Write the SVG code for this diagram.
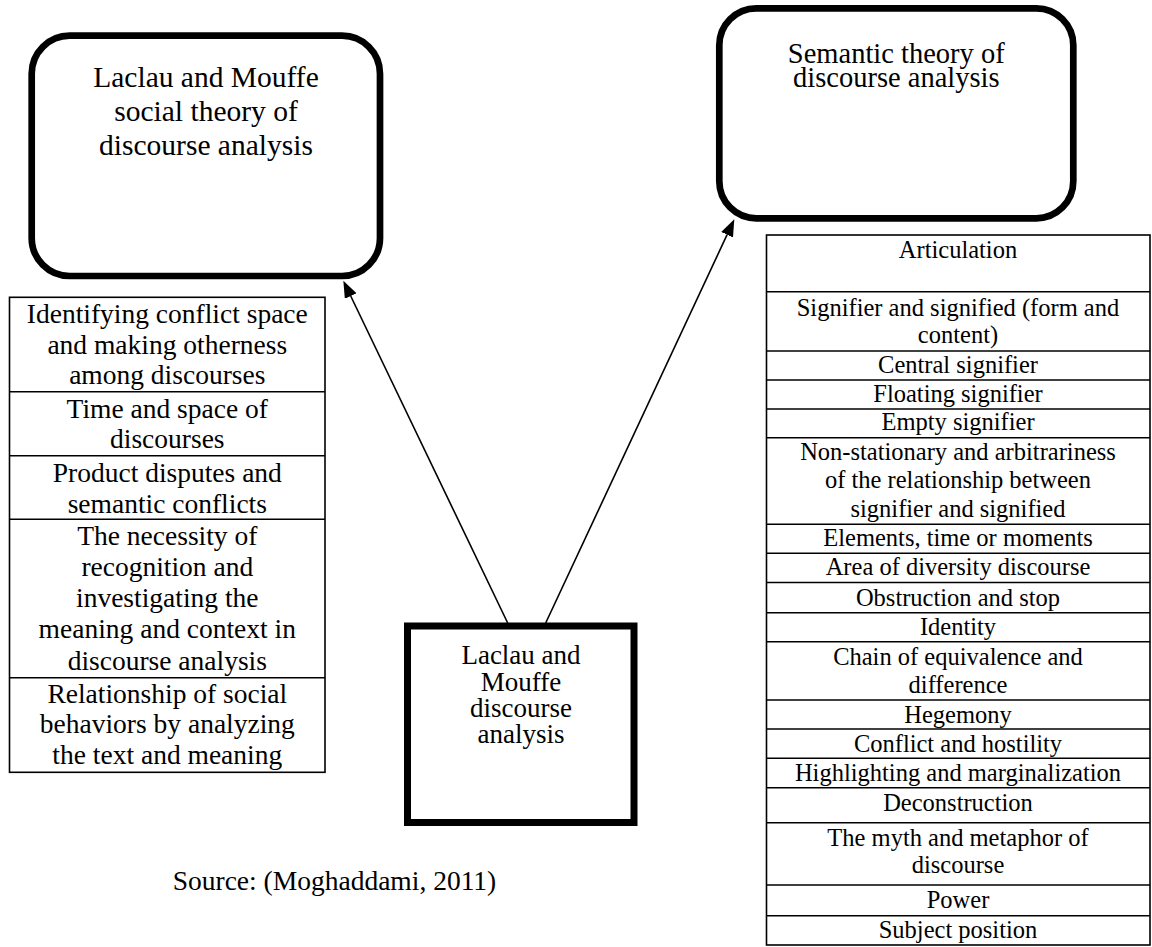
<svg xmlns="http://www.w3.org/2000/svg" width="1152" height="947" viewBox="0 0 1152 947">
<style>
text{font-family:"Liberation Serif","Times New Roman",serif;fill:#000;text-anchor:middle}
.big{fill:#fff;stroke:#000;stroke-width:6.7}
.cell{fill:#fff;stroke:#000;stroke-width:1.6}
.div{stroke:#000;stroke-width:1.6}
.lt{font-size:27.5px}
.rt{font-size:24.5px}
.conn{stroke:#000;stroke-width:1.6;fill:none}
</style>
<defs>
<marker id="ah" markerUnits="userSpaceOnUse" markerWidth="18" markerHeight="14" refX="0" refY="6.5" orient="auto">
<path d="M0,0 L17,6.5 L0,13 z" fill="#000"/>
</marker>
</defs>
<rect width="1152" height="947" fill="#fff"/>

<g id="social-theory">
<rect class="big" x="31.7" y="35.7" width="348.3" height="240.3" rx="38" ry="38"/>
<text x="206" y="87.3" style="font-size:29.5px">Laclau and Mouffe</text>
<text x="206" y="121" style="font-size:29.5px">social theory of</text>
<text x="206" y="155" style="font-size:29.5px">discourse analysis</text>
</g>

<g id="semantic-theory">
<rect class="big" x="719.3" y="8.3" width="354" height="210" rx="37" ry="37"/>
<text x="896.3" y="63.3" style="font-size:28.5px">Semantic theory of</text>
<text x="896.3" y="87.3" style="font-size:28.5px">discourse analysis</text>
</g>

<g id="central">
<rect x="407.5" y="626" width="226.5" height="196.5" fill="#fff" stroke="#000" stroke-width="7"/>
<text x="521" y="664" style="font-size:27px">Laclau and</text>
<text x="521" y="690.7" style="font-size:27px">Mouffe</text>
<text x="521" y="716.7" style="font-size:27px">discourse</text>
<text x="521" y="743" style="font-size:27px">analysis</text>
</g>

<g id="left-table" class="lt">
<rect class="cell" x="9.5" y="297.3" width="315.5" height="475"/>
<line class="div" x1="9.5" y1="391.7" x2="325" y2="391.7"/>
<line class="div" x1="9.5" y1="455.7" x2="325" y2="455.7"/>
<line class="div" x1="9.5" y1="519.3" x2="325" y2="519.3"/>
<line class="div" x1="9.5" y1="677.7" x2="325" y2="677.7"/>
<text x="167.3" y="323.3">Identifying conflict space</text>
<text x="167.3" y="354">and making otherness</text>
<text x="167.3" y="384.3">among discourses</text>
<text x="167.3" y="418.3">Time and space of</text>
<text x="167.3" y="448.3">discourses</text>
<text x="167.3" y="482.3">Product disputes and</text>
<text x="167.3" y="512.7">semantic conflicts</text>
<text x="167.3" y="545.3">The necessity of</text>
<text x="167.3" y="576">recognition and</text>
<text x="167.3" y="607.3">investigating the</text>
<text x="167.3" y="637.7">meaning and context in</text>
<text x="167.3" y="670">discourse analysis</text>
<text x="167.3" y="703.3">Relationship of social</text>
<text x="167.3" y="733.3">behaviors by analyzing</text>
<text x="167.3" y="764">the text and meaning</text>
</g>

<g id="right-table" class="rt">
<rect class="cell" x="766.5" y="235" width="383.5" height="710"/>
<line class="div" x1="766.5" y1="291.7" x2="1150" y2="291.7"/>
<line class="div" x1="766.5" y1="351" x2="1150" y2="351"/>
<line class="div" x1="766.5" y1="380" x2="1150" y2="380"/>
<line class="div" x1="766.5" y1="409" x2="1150" y2="409"/>
<line class="div" x1="766.5" y1="437.7" x2="1150" y2="437.7"/>
<line class="div" x1="766.5" y1="524.3" x2="1150" y2="524.3"/>
<line class="div" x1="766.5" y1="553.3" x2="1150" y2="553.3"/>
<line class="div" x1="766.5" y1="582.5" x2="1150" y2="582.5"/>
<line class="div" x1="766.5" y1="612.7" x2="1150" y2="612.7"/>
<line class="div" x1="766.5" y1="641.7" x2="1150" y2="641.7"/>
<line class="div" x1="766.5" y1="700" x2="1150" y2="700"/>
<line class="div" x1="766.5" y1="729" x2="1150" y2="729"/>
<line class="div" x1="766.5" y1="758.3" x2="1150" y2="758.3"/>
<line class="div" x1="766.5" y1="787.7" x2="1150" y2="787.7"/>
<line class="div" x1="766.5" y1="822.7" x2="1150" y2="822.7"/>
<line class="div" x1="766.5" y1="885" x2="1150" y2="885"/>
<line class="div" x1="766.5" y1="915.7" x2="1150" y2="915.7"/>
<text x="958" y="258.3">Articulation</text>
<text x="958" y="315.7">Signifier and signified (form and</text>
<text x="958" y="343.3">content)</text>
<text x="958" y="372.7">Central signifier</text>
<text x="958" y="401.7">Floating signifier</text>
<text x="958" y="430">Empty signifier</text>
<text x="958" y="460">Non-stationary and arbitrariness</text>
<text x="958" y="488.3">of the relationship between</text>
<text x="958" y="516.7">signifier and signified</text>
<text x="958" y="545.7">Elements, time or moments</text>
<text x="958" y="575">Area of diversity discourse</text>
<text x="958" y="606">Obstruction and stop</text>
<text x="958" y="635">Identity</text>
<text x="958" y="665">Chain of equivalence and</text>
<text x="958" y="693.3">difference</text>
<text x="958" y="722.7">Hegemony</text>
<text x="958" y="751.7">Conflict and hostility</text>
<text x="958" y="780.7">Highlighting and marginalization</text>
<text x="958" y="810.7">Deconstruction</text>
<text x="958" y="846">The myth and metaphor of</text>
<text x="958" y="873.3">discourse</text>
<text x="958" y="908.3">Power</text>
<text x="958" y="937.7">Subject position</text>
</g>

<g id="connectors">
<line class="conn" x1="507.7" y1="623" x2="350.7" y2="296" marker-end="url(#ah)"/>
<line class="conn" x1="545.7" y1="623" x2="727.1" y2="234.7" marker-end="url(#ah)"/>
</g>

<g id="source">
<text x="334.5" y="890" style="font-size:27.5px">Source: (Moghaddami, 2011)</text>
</g>
</svg>
